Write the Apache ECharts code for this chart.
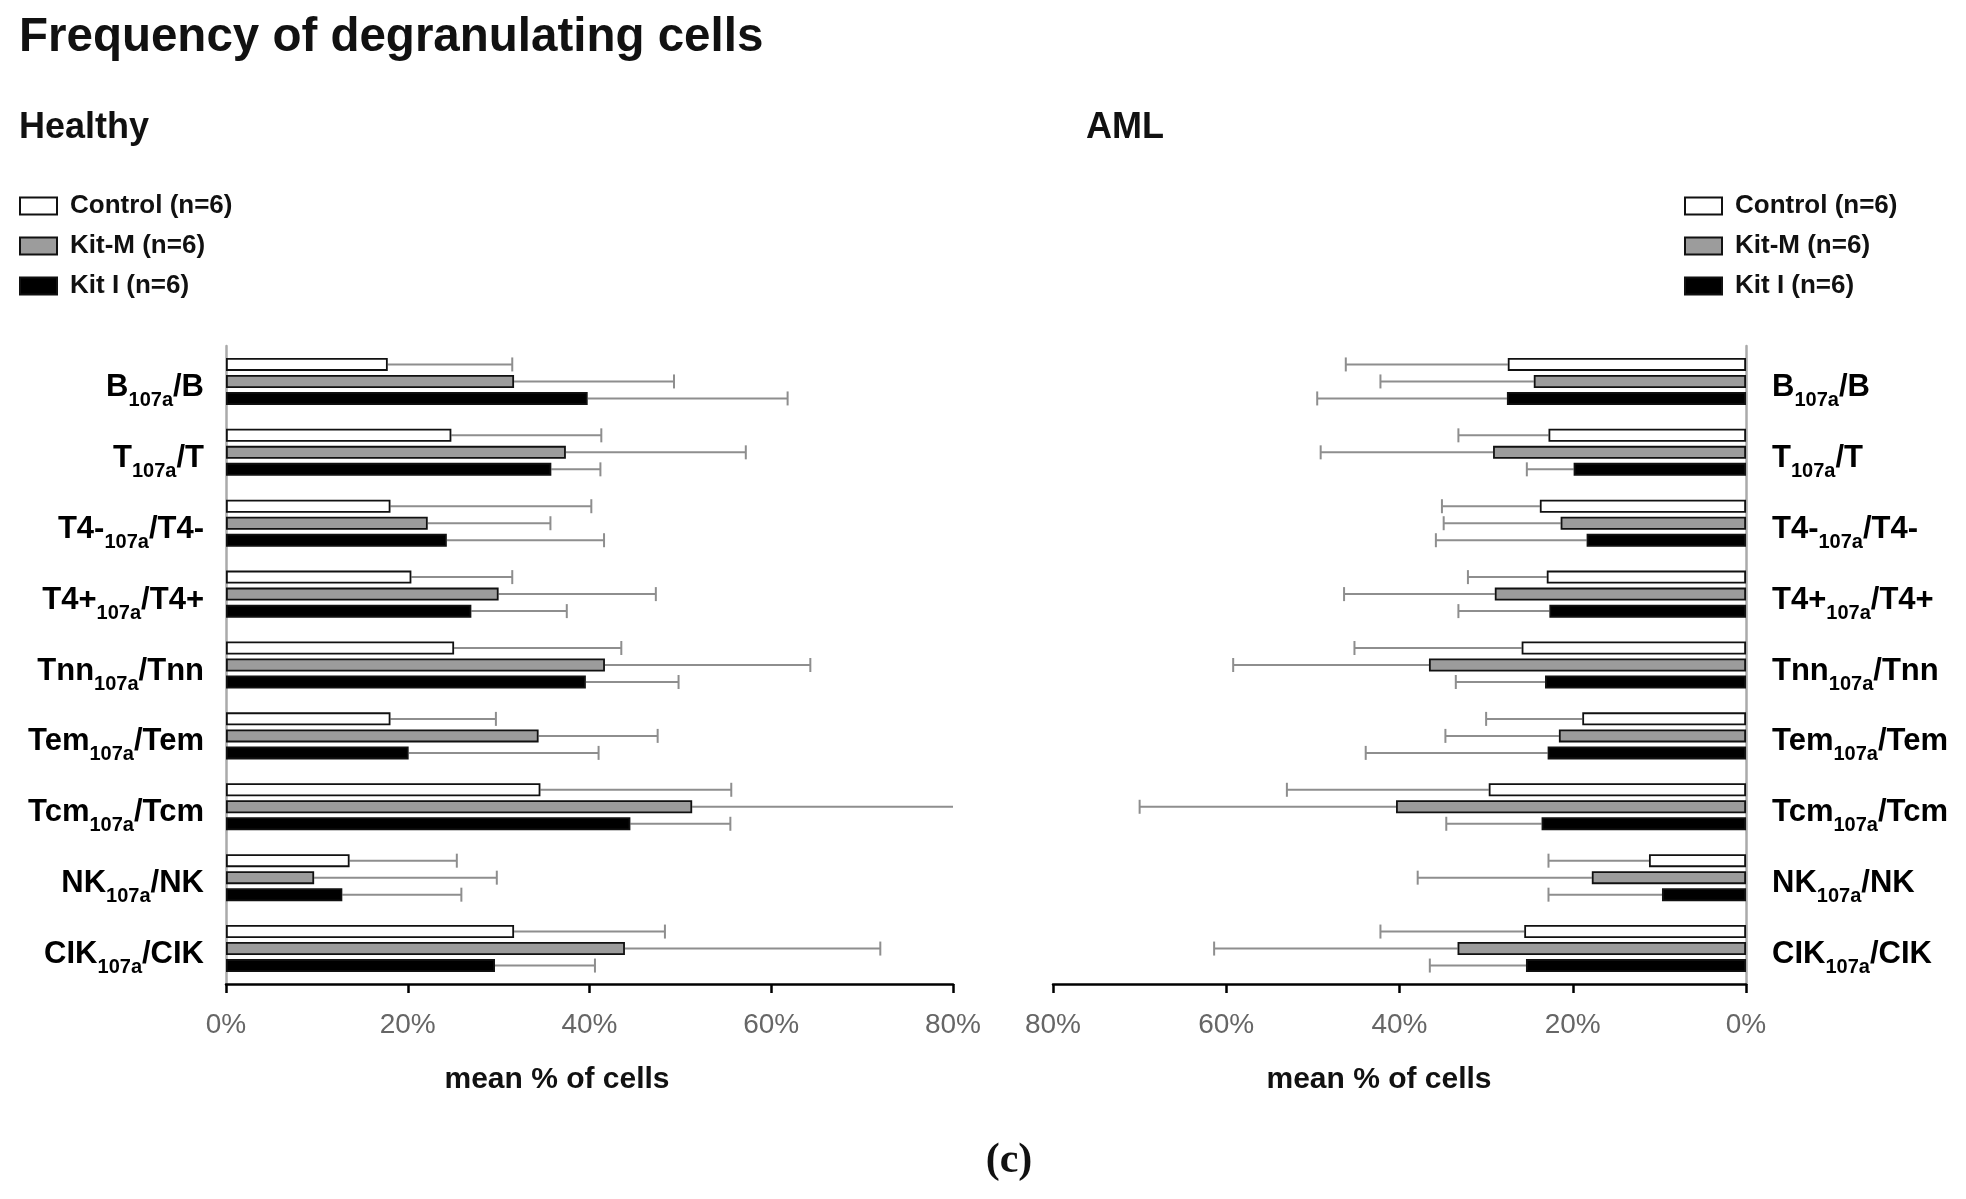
<!DOCTYPE html>
<html>
<head>
<meta charset="utf-8">
<script src="https://cdn.jsdelivr.net/npm/echarts@6/dist/echarts.min.js"></script>
<style>
  html, body { margin: 0; padding: 0; background: #fff; }
  #chart { width: 1966px; height: 1199px; }
</style>
</head>
<body>
<div id="chart"></div>
<script>
// cell types (label = X<sub>107a</sub>/X)
var categories = ['B', 'T', 'T4-', 'T4+', 'Tnn', 'Tem', 'Tcm', 'NK', 'CIK'];
var seriesNames = ['Control (n=6)', 'Kit-M (n=6)', 'Kit I (n=6)'];
var xTicks = [0, 20, 40, 60, 80];

// Healthy: mean and mean+SD (end of error bar), % of cells
var healthyControl = [17.8, 24.8, 18.1, 20.4, 25.1, 18.1, 34.6, 13.6, 31.7];
var healthyControlUp = [31.5, 41.3, 40.2, 31.5, 43.5, 29.7, 55.6, 25.4, 48.3];
var healthyKitM = [31.7, 37.4, 22.2, 30.0, 41.7, 34.4, 51.3, 9.7, 43.9];
var healthyKitMUp = [49.3, 57.2, 35.7, 47.3, 64.3, 47.5, 82.0, 29.8, 72.0];
var healthyKitI = [39.8, 35.8, 24.3, 27.0, 39.6, 20.1, 44.5, 12.8, 29.6];
var healthyKitIUp = [61.8, 41.2, 41.6, 37.5, 49.8, 41.0, 55.5, 25.9, 40.6];

// AML
var amlControl = [27.5, 22.8, 23.8, 23.0, 25.9, 18.9, 29.7, 11.2, 25.6];
var amlControlUp = [46.2, 33.2, 35.1, 32.1, 45.2, 30.0, 53.0, 22.8, 42.2];
var amlKitM = [24.5, 29.2, 21.4, 29.0, 36.6, 21.6, 40.4, 17.8, 33.3];
var amlKitMUp = [42.2, 49.1, 34.9, 46.4, 59.2, 34.7, 70.0, 37.9, 61.4];
var amlKitI = [27.6, 19.9, 18.4, 22.7, 23.2, 22.9, 23.6, 9.7, 25.4];
var amlKitIUp = [49.5, 25.3, 35.8, 33.2, 33.5, 43.9, 34.6, 22.8, 36.5];

var FONT = '"Liberation Sans", Arial, sans-serif';
var BAR_W = 13;
var BAR_STEP = 17;
var fills = ['#ffffff', '#9c9c9c', '#000000'];
var ERR_COLOR = '#8e8e8e';

var chart = echarts.init(document.getElementById('chart'));

function catLabel(name) {
    return '{m|' + name + '}{s|107a}{m|/' + name + '}';
}
var labelRich = {
    m: { fontFamily: FONT, fontSize: 31, fontWeight: 'bold', color: '#000' },
    s: { fontFamily: FONT, fontSize: 20, fontWeight: 'bold', color: '#000', padding: [26, 0, 0, 0] }
};

function xAxisFor(idx, inverse) {
    return {
        type: 'value', gridIndex: idx, min: xTicks[0], max: xTicks[xTicks.length - 1],
        interval: xTicks[1] - xTicks[0], inverse: inverse,
        axisLine: { show: true, lineStyle: { color: '#000', width: 2.5 } },
        axisTick: { show: true, length: 9, lineStyle: { color: '#000', width: 2.5 } },
        splitLine: { show: false },
        axisLabel: { formatter: '{value}%', color: '#666', fontSize: 28, fontFamily: FONT, margin: 27 }
    };
}
function yAxisFor(idx, pos) {
    return {
        type: 'category', gridIndex: idx, data: categories, inverse: true, position: pos,
        axisLine: { show: true, lineStyle: { color: '#aaaaaa', width: 2.5 } },
        axisTick: { show: false },
        axisLabel: { formatter: catLabel, rich: labelRich, padding: [12, 0, 0, 0],
                     margin: pos === 'right' ? 26 : 22 }
    };
}

function barSeries(i, gi, values) {
    return {
        name: seriesNames[i], type: 'bar', xAxisIndex: gi, yAxisIndex: gi,
        data: values, barWidth: BAR_W, barGap: '31%',
        itemStyle: { color: fills[i], borderColor: '#111', borderWidth: 1.8 },
        z: 3
    };
}

function errSeries(i, gi, means, ups) {
    var data = means.map(function (m, k) { return [k, m, ups[k]]; });
    return {
        type: 'custom', xAxisIndex: gi, yAxisIndex: gi, clip: true, z: 2,
        encode: { x: [1, 2], y: 0 },
        data: data,
        renderItem: function (params, api) {
            var k = api.value(0);
            var p0 = api.coord([api.value(1), k]);
            var p1 = api.coord([api.value(2), k]);
            var y = p0[1] + (i - 1) * BAR_STEP;
            return {
                type: 'group',
                children: [
                    { type: 'line', shape: { x1: p0[0], y1: y, x2: p1[0], y2: y },
                      style: { stroke: ERR_COLOR, lineWidth: 2 } },
                    { type: 'line', shape: { x1: p1[0], y1: y - 7, x2: p1[0], y2: y + 7 },
                      style: { stroke: ERR_COLOR, lineWidth: 2 } }
                ]
            };
        }
    };
}

function legendAt(left) {
    return {
        orient: 'vertical', left: left, top: 188, itemWidth: 37, itemHeight: 17, itemGap: 14,
        icon: 'rect', selectedMode: false,
        data: seriesNames,
        textStyle: { fontFamily: FONT, fontSize: 26, fontWeight: 'bold', color: '#111', padding: [0, 0, 0, 8] }
    };
}

function freeText(x, y, text, size, align, family, weight) {
    return {
        type: 'text', x: x, y: y,
        style: { text: text, fontFamily: family || FONT, fontSize: size, fontWeight: weight || 'bold',
                 fill: '#111', textAlign: align, textVerticalAlign: 'middle' }
    };
}

chart.setOption({
    animation: false,
    backgroundColor: '#fff',
    grid: [
        { left: 226, top: 346, width: 727, height: 638 },
        { left: 1053, top: 346, width: 693, height: 638 }
    ],
    xAxis: [xAxisFor(0, false), xAxisFor(1, true)],
    yAxis: [yAxisFor(0, 'left'), yAxisFor(1, 'right')],
    legend: [legendAt(14), legendAt(1679)],
    graphic: [
        freeText(19, 38, 'Frequency of degranulating cells', 47.5, 'left'),
        freeText(19, 128, 'Healthy', 36, 'left'),
        freeText(1086, 128, 'AML', 36, 'left'),
        freeText(557, 1080, 'mean % of cells', 30, 'center'),
        freeText(1379, 1080, 'mean % of cells', 30, 'center'),
        freeText(1009, 1161, '(c)', 42, 'center', '"Liberation Serif", "DejaVu Serif", serif', 'bold')
    ],
    series: [
        barSeries(0, 0, healthyControl), barSeries(1, 0, healthyKitM), barSeries(2, 0, healthyKitI),
        errSeries(0, 0, healthyControl, healthyControlUp),
        errSeries(1, 0, healthyKitM, healthyKitMUp),
        errSeries(2, 0, healthyKitI, healthyKitIUp),
        barSeries(0, 1, amlControl), barSeries(1, 1, amlKitM), barSeries(2, 1, amlKitI),
        errSeries(0, 1, amlControl, amlControlUp),
        errSeries(1, 1, amlKitM, amlKitMUp),
        errSeries(2, 1, amlKitI, amlKitIUp)
    ]
});
</script>
</body>
</html>
